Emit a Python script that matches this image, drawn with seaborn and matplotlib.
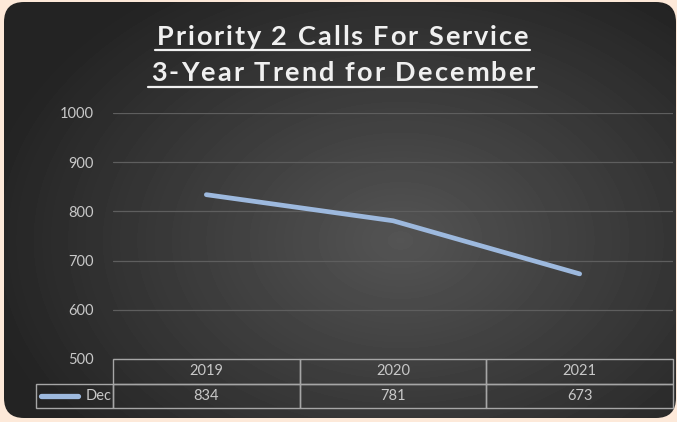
import numpy as np
import pandas as pd
import matplotlib
matplotlib.use('Agg')
import matplotlib.pyplot as plt
import seaborn as sns
from matplotlib.patches import FancyBboxPatch
from matplotlib.lines import Line2D
from matplotlib.font_manager import FontProperties

years = ['2019', '2020', '2021']
dec_calls = [834, 781, 673]
series_name = 'Dec'
title_lines = ['Priority 2 Calls For Service', '3-Year Trend for December']

line_color = '#9DB9DE'
grid_color = '#5E5E5E'
text_color = '#C8C8C8'
title_color = '#F0F0F0'

sns.set_theme(style='dark')
plt.rcParams['font.family'] = ['Lato', 'DejaVu Sans']

W, H = 677, 422
fig = plt.figure(figsize=(W / 100, H / 100), dpi=100)
fig.patch.set_facecolor('#FDE9D9')

# background: rounded dark panel with radial gradient
bg = fig.add_axes([0, 0, 1, 1])
bg.set_xlim(0, W)
bg.set_ylim(H, 0)
bg.axis('off')
yy, xx = np.mgrid[0:H, 0:W]
r = np.sqrt(((xx - 400) / 420.0) ** 2 + ((yy - 240) / 300.0) ** 2)
shade = np.clip(0.33 - 0.19 * r, 0.14, 0.33)
img = bg.imshow(shade, cmap='gray', vmin=0, vmax=1, extent=(0, W, H, 0),
                interpolation='bilinear', zorder=1)
panel = FancyBboxPatch((4, 2), 672, 416, boxstyle='round,pad=0,rounding_size=20',
                       facecolor='none', edgecolor='none', transform=bg.transData)
bg.add_patch(panel)
img.set_clip_path(panel)

# titles with letter spacing, underlined
fig.canvas.draw()
renderer = fig.canvas.get_renderer()
prop = FontProperties(family=['Lato', 'DejaVu Sans'], weight='bold', size=19.5)
spans = [(157, 528), (151, 535)]
baselines = [45, 81]
underlines = [(155, 530, 50), (148, 537, 86.5)]


def text_w(s):
    if not s:
        return 0.0
    w, h, d = renderer.get_text_width_height_descent(s, prop, ismath=False)
    return w


for t, (x0, x1), yb, (u0, u1, uy) in zip(title_lines, spans, baselines, underlines):
    natural = text_w(t)
    gap = ((x1 - x0) - natural) / (len(t) - 1)
    for i, ch in enumerate(t):
        x = x0 + text_w(t[:i]) + i * gap
        bg.text(x, yb, ch, ha='left', va='baseline', fontproperties=prop,
                color=title_color, zorder=5)
    bg.plot([u0, u1], [uy, uy], color=title_color, lw=1.6, zorder=5)

# plot area
left, right, top, bottom = 113, 673, 113, 359
ax = fig.add_axes([left / W, 1 - bottom / H, (right - left) / W, (bottom - top) / H])
ax.set_facecolor('none')
df = pd.DataFrame({'year': years, 'calls': dec_calls})
sns.lineplot(data=df, x='year', y='calls', ax=ax, color=line_color, lw=3.4,
             solid_capstyle='round', solid_joinstyle='round', zorder=4)
ax.set_xlim(-0.5, len(years) - 0.5)
ax.set_ylim(500, 1000)
ax.set_yticks(np.arange(500, 1001, 100))
ax.grid(axis='y', color=grid_color, lw=0.9)
ax.grid(axis='x', visible=False)
for s in ax.spines.values():
    s.set_visible(False)
ax.set_xlabel('')
ax.set_ylabel('')
ax.set_xticks([])
ax.tick_params(axis='y', colors=text_color, labelsize=10.5, length=0, pad=14)

# data table below the plot
row_h = (bottom - top)
cells = [[''] + years, [series_name] + [str(v) for v in dec_calls]]
tbl_left = (36 - left) / (right - left)
tbl_h = 49 / row_h
tbl = ax.table(cellText=cells, colWidths=[77, 187, 187, 187], cellLoc='center',
               bbox=[tbl_left, -tbl_h, 1 - tbl_left, tbl_h])
tbl.auto_set_font_size(False)
for (rr, cc), cell in tbl.get_celld().items():
    cell.set_facecolor('none')
    cell.set_edgecolor('#A6A6A6')
    cell.set_linewidth(1.0)
    cell.get_text().set_color(text_color)
    cell.get_text().set_fontsize(10.5)
    if rr == 0 and cc == 0:
        cell.visible_edges = ''
    if rr == 1 and cc == 0:
        cell.get_text().set_ha('right')
        cell._loc = 'right'
        cell.PAD = 0.02

# legend key inside the table row label
bg.add_line(Line2D([41, 78], [396, 396], color=line_color, lw=3.8,
                   solid_capstyle='round', zorder=6))

fig.savefig('out.png', dpi=100, facecolor=fig.get_facecolor())
